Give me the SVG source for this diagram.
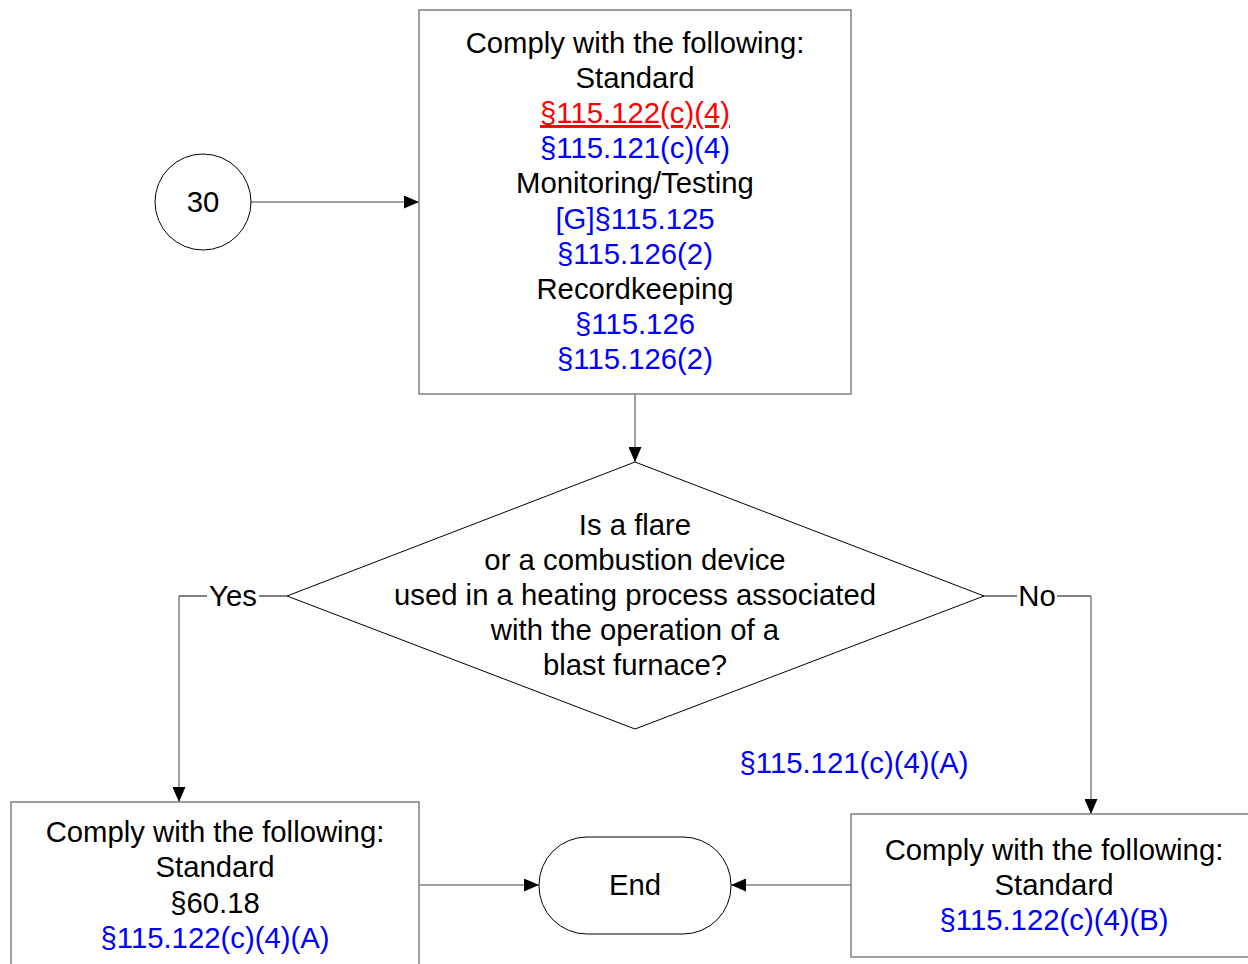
<svg xmlns="http://www.w3.org/2000/svg" width="1248" height="964" viewBox="0 0 1248 964">
<style>
text{font-family:"Liberation Sans",Arial,sans-serif;font-size:29.3px;text-anchor:middle;fill:#000}
.b{fill:#0000ff}
.r{fill:#ff0000;text-decoration:underline}
.box{fill:#fff;stroke:#808080;stroke-width:1.5}
.shape{fill:#fff;stroke:#000;stroke-width:1}
.c{fill:none;stroke:#808080;stroke-width:1.5}
.cb{fill:none;stroke:#000;stroke-width:1}
</style>
<defs>
<marker id="a" markerWidth="15" markerHeight="13" refX="15" refY="6.5" orient="auto" markerUnits="userSpaceOnUse" viewBox="0 0 15 13">
<path d="M0,0 L15,6.5 L0,13 z" fill="#000"/>
</marker>
</defs>
<rect width="1248" height="964" fill="#fff"/>
<g id="connectors">
<path class="c" d="M251,202 H419" marker-end="url(#a)"/>
<path class="c" d="M635,394 V462" marker-end="url(#a)"/>
<path class="cb" d="M287,596 H259 M207,596 H179"/>
<path class="c" d="M179,596 V802" marker-end="url(#a)"/>
<path class="cb" d="M984,596 H1017 M1057,596 H1091"/>
<path class="c" d="M1091,596 V814" marker-end="url(#a)"/>
<path class="c" d="M419,885 H539" marker-end="url(#a)"/>
<path class="c" d="M851,885 H731" marker-end="url(#a)"/>
<text x="233" y="606">Yes</text>
<text x="1037" y="606">No</text>
<text class="b" x="854" y="773">§115.121(c)(4)(A)</text>
</g>
<g id="n30">
<circle class="shape" cx="203" cy="202" r="48"/>
<text x="203" y="212">30</text>
</g>
<g id="top">
<rect class="box" x="419" y="10" width="432" height="384"/>
<text x="635" y="53">Comply with the following:</text>
<text x="635" y="88">Standard</text>
<text class="r" x="635" y="123">§115.122(c)(4)</text>
<text class="b" x="635" y="158">§115.121(c)(4)</text>
<text x="635" y="193">Monitoring/Testing</text>
<text class="b" x="635" y="229">[G]§115.125</text>
<text class="b" x="635" y="264">§115.126(2)</text>
<text x="635" y="299">Recordkeeping</text>
<text class="b" x="635" y="334">§115.126</text>
<text class="b" x="635" y="369">§115.126(2)</text>
</g>
<g id="decision">
<polygon class="shape" points="635,462 984,596 635,729 287,596"/>
<text x="635" y="535">Is a flare</text>
<text x="635" y="570">or a combustion device</text>
<text x="635" y="605">used in a heating process associated</text>
<text x="635" y="640">with the operation of a</text>
<text x="635" y="675">blast furnace?</text>
</g>
<g id="yesbox">
<rect class="box" x="11" y="802" width="408" height="180"/>
<text x="215" y="842">Comply with the following:</text>
<text x="215" y="877">Standard</text>
<text x="215" y="913">§60.18</text>
<text class="b" x="215" y="948">§115.122(c)(4)(A)</text>
</g>
<g id="end">
<rect class="shape" x="539" y="837" width="192" height="97" rx="48" ry="48"/>
<text x="635" y="895">End</text>
</g>
<g id="nobox">
<rect class="box" x="851" y="814" width="406" height="143"/>
<text x="1054" y="860">Comply with the following:</text>
<text x="1054" y="895">Standard</text>
<text class="b" x="1054" y="930">§115.122(c)(4)(B)</text>
</g>
</svg>
